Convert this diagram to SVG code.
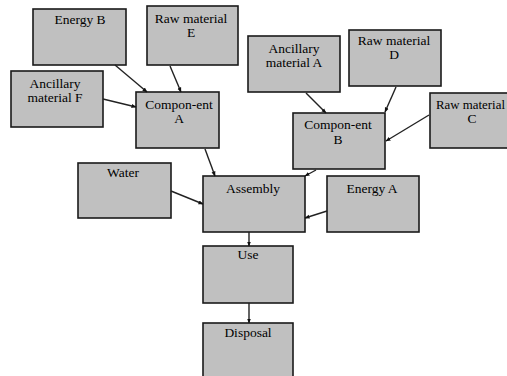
<svg xmlns="http://www.w3.org/2000/svg" width="507" height="376" viewBox="0 0 507 376">
<style>
.box{fill:#c0c0c0;stroke:#1a1a1a;stroke-width:1.6}
.t{font-family:"Liberation Serif","Times New Roman",serif;font-size:13.5px;fill:#000;text-anchor:middle}
.c{stroke:#222;stroke-width:1.4;fill:none;marker-end:url(#ah)}
</style>
<defs>
<marker id="ah" viewBox="0 0 10 10" refX="9" refY="5" markerWidth="5" markerHeight="5" orient="auto" markerUnits="userSpaceOnUse">
<path d="M0,1 L10,5 L0,9 z" fill="#111"/>
</marker>
</defs>
<rect width="507" height="376" fill="#fff"/>
<g id="energyB"><rect class="box" x="33" y="9" width="93" height="56"/><text class="t" x="80" y="24">Energy B</text></g>
<g id="rawE"><rect class="box" x="147" y="6" width="91" height="59"/><text class="t" x="191" y="23">Raw material</text><text class="t" x="191" y="37">E</text></g>
<g id="ancF"><rect class="box" x="11" y="71" width="92" height="56"/><text class="t" x="55" y="88">Ancillary</text><text class="t" x="55" y="102">material F</text></g>
<g id="compA"><rect class="box" x="136" y="92" width="83" height="56"/><text class="t" x="179" y="109">Compon-ent</text><text class="t" x="179" y="123">A</text></g>
<g id="ancA"><rect class="box" x="248" y="36" width="92" height="56"/><text class="t" x="294" y="53">Ancillary</text><text class="t" x="294" y="67">material A</text></g>
<g id="rawD"><rect class="box" x="349" y="30" width="92" height="56"/><text class="t" x="394" y="45">Raw material</text><text class="t" x="394" y="59">D</text></g>
<g id="rawC"><rect class="box" x="430" y="93" width="90" height="55"/><text class="t" x="436" y="109" style="text-anchor:start" textLength="69" lengthAdjust="spacingAndGlyphs">Raw material</text><text class="t" x="472" y="123">C</text></g>
<g id="compB"><rect class="box" x="293" y="113" width="92" height="56"/><text class="t" x="338" y="129">Compon-ent</text><text class="t" x="338" y="144">B</text></g>
<g id="water"><rect class="box" x="78" y="163" width="93" height="55"/><text class="t" x="123" y="177">Water</text></g>
<g id="assembly"><rect class="box" x="203" y="176" width="102" height="56"/><text class="t" x="253" y="193">Assembly</text></g>
<g id="energyA"><rect class="box" x="327" y="176" width="92" height="56"/><text class="t" x="372" y="193">Energy A</text></g>
<g id="use"><rect class="box" x="203" y="246" width="90" height="57"/><text class="t" x="248" y="259">Use</text></g>
<g id="disposal"><rect class="box" x="203" y="323" width="90" height="60"/><text class="t" x="248" y="337">Disposal</text></g>
<g id="connectors">
<line class="c" x1="115" y1="65" x2="147" y2="92"/>
<line class="c" x1="170" y1="66" x2="181" y2="92"/>
<line class="c" x1="103" y1="99" x2="136" y2="107"/>
<line class="c" x1="306" y1="93" x2="326" y2="113"/>
<line class="c" x1="396" y1="87" x2="385" y2="112"/>
<line class="c" x1="429" y1="115" x2="386" y2="141"/>
<line class="c" x1="205" y1="149" x2="215" y2="176"/>
<line class="c" x1="316" y1="170" x2="305" y2="176"/>
<line class="c" x1="171" y1="191" x2="203" y2="204"/>
<line class="c" x1="327" y1="211" x2="305" y2="218"/>
<line class="c" x1="249" y1="232" x2="249" y2="246"/>
<line class="c" x1="249" y1="303" x2="249" y2="323"/>
</g>
</svg>
